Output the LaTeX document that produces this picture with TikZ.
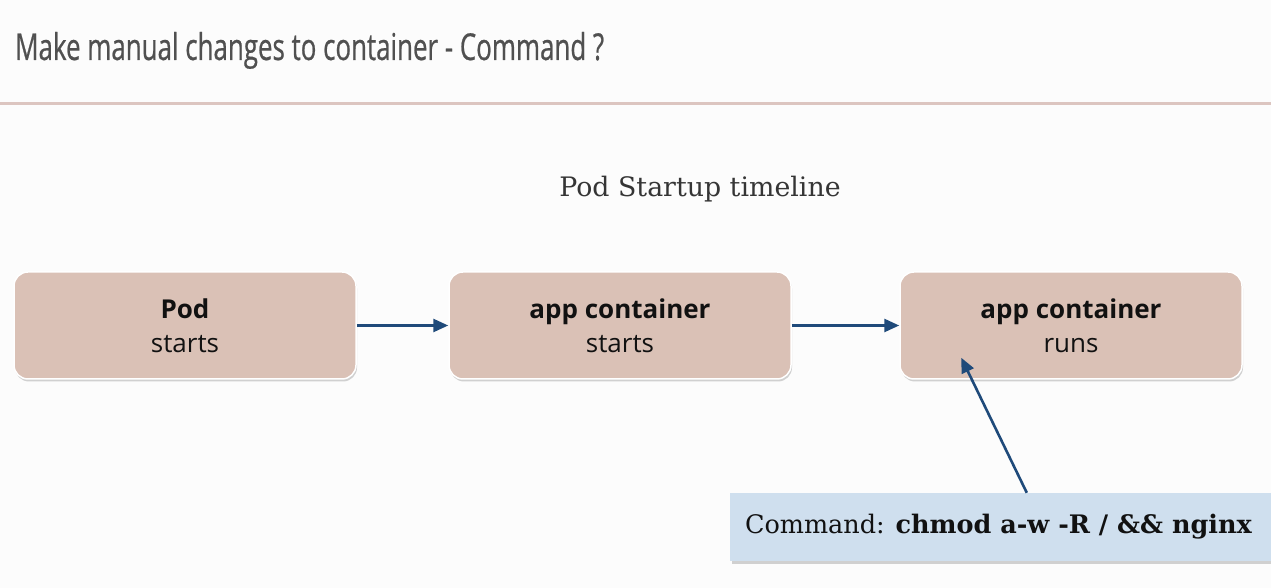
\documentclass[tikz,border=0pt]{standalone}
\usepackage{fontspec}
\setmainfont{Open Sans}
\newfontfamily\titlefont[FakeStretch=0.70,FakeBold=0.6]{Open Sans}
\newfontfamily\slabfont{DejaVu Serif}
\usetikzlibrary{arrows.meta,shadows,calc}
\definecolor{ink}{HTML}{111111}
\definecolor{titlegray}{HTML}{505050}
\definecolor{rule}{HTML}{DCC5C0}
\definecolor{stepfill}{HTML}{DAC1B6}
\definecolor{cmdfill}{HTML}{CFDFEE}
\definecolor{arrowblue}{HTML}{1F4A7A}
\definecolor{bg}{HTML}{FCFCFC}
\tikzset{
  >={Triangle[length=15pt,width=13pt]},
  stage/.style={draw=white,line width=1.5pt,fill=stepfill,rounded corners=14pt,
    minimum width=342pt,minimum height=107pt,align=center,text=ink,
    font=\fontsize{26}{34}\selectfont,
    drop shadow={shadow xshift=1pt,shadow yshift=-2.5pt,opacity=.35}},
  cmdbox/.style={fill=cmdfill,minimum width=541pt,minimum height=68pt,
    drop shadow={shadow xshift=2pt,shadow yshift=-3pt,opacity=.35}},
  flow/.style={->,draw=arrowblue,line width=2.6pt}
}

\begin{document}
\begin{tikzpicture}[x=1pt,y=1pt]
  \useasboundingbox[fill=bg] (0,0) rectangle (1271,588);
  \node[anchor=base west,inner sep=0,text=titlegray,font=\titlefont\fontsize{37}{40}\selectfont]
    (title) at (15,528) {Make manual changes to container - Command ?};
  \draw[rule,line width=3pt] (0,484) -- (1271,484);
  \node[font=\slabfont\fontsize{26.8}{32}\selectfont,text=ink!85] (head) at (700,399) {Pod Startup timeline};

  \node[stage] (pod) at (185,262.5) {\textbf{Pod}\\starts};
  \node[stage] (start) at (620,262.5) {\textbf{app container}\\starts};
  \node[stage] (runs) at (1071,262.5) {\textbf{app container}\\runs};

  \node[cmdbox] (cmd) at (1000.5,61) {};
  \node[anchor=west,inner sep=0,text=ink,font=\slabfont\fontsize{25.5}{30}\selectfont]
    (cmdtext) at ($(cmd.west)+(15,0)$) {Command: \textbf{chmod a-w -R / \&\& nginx}};
  \coordinate (hit) at ($(runs.south west)+(62,22)$);

  \draw[flow] (pod.east) -- (start.west);
  \draw[flow] (start.east) -- (runs.west);
  \draw[flow] ($(cmd.north west)+(297,0)$) -- (hit);
\end{tikzpicture}
\end{document}
